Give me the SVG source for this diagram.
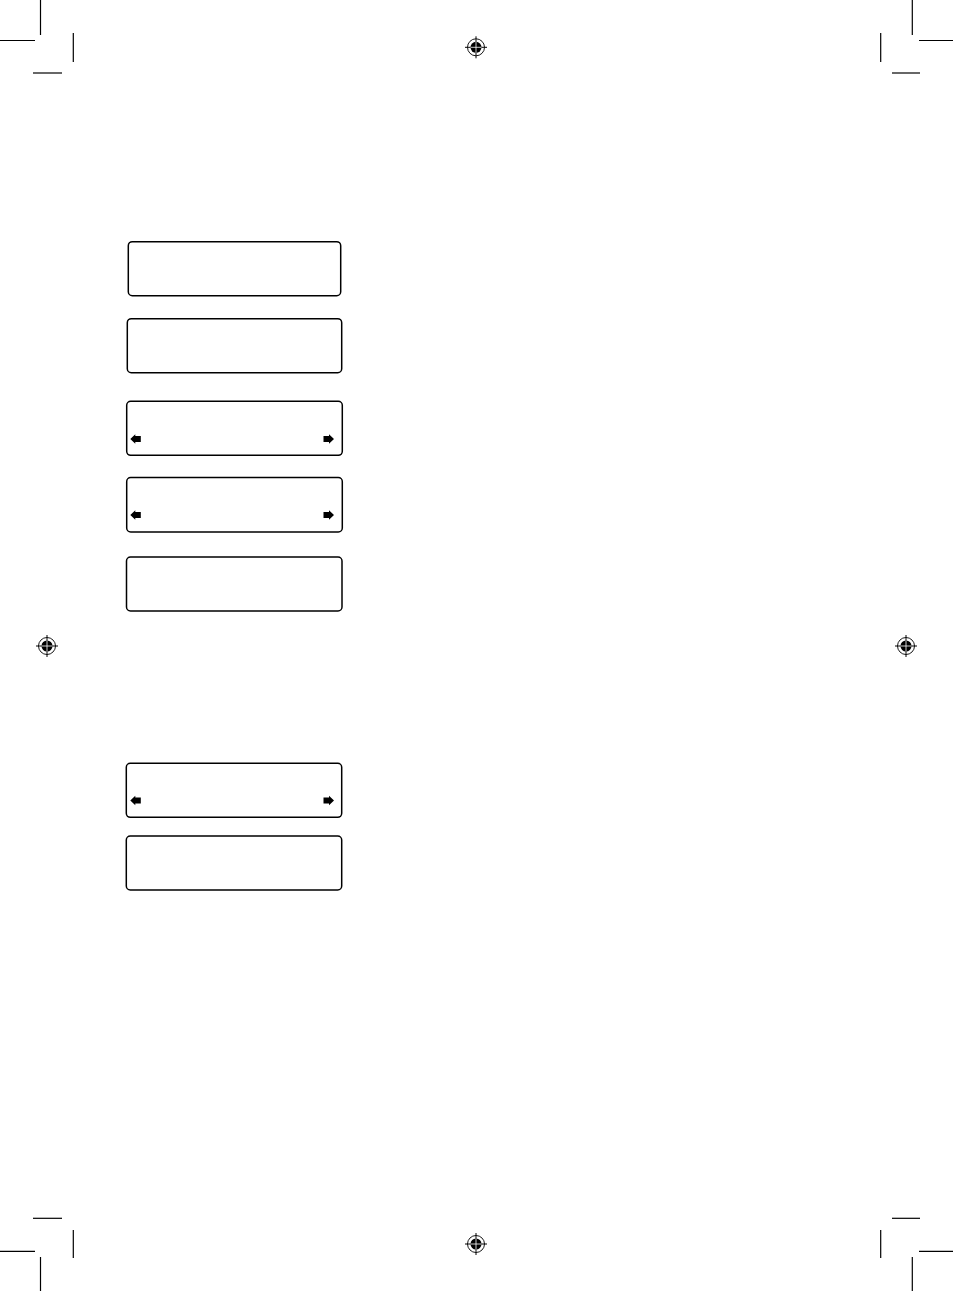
<svg xmlns="http://www.w3.org/2000/svg" width="953" height="1291" viewBox="0 0 953 1291">
<style>
.crop{stroke:#000;stroke-width:1.2;fill:none}
.box{fill:#fff;stroke:#000;stroke-width:1.5}
.arr{fill:#000}
</style>
<defs>
<g id="reg">
<circle r="8.5" fill="none" stroke="#000" stroke-width="0.9"/>
<circle r="5.5" fill="#000"/>
<line x1="-11" y1="0" x2="11" y2="0" stroke="#000" stroke-width="1"/>
<line x1="0" y1="-11" x2="0" y2="11" stroke="#000" stroke-width="1"/>
<line x1="-5.5" y1="0" x2="5.5" y2="0" stroke="#fff" stroke-width="0.8"/>
<line x1="0" y1="-5.5" x2="0" y2="5.5" stroke="#fff" stroke-width="0.8"/>
</g>
<path id="la" d="M0,0 L5,-4.8 L5,-3 L10.5,-3 L10.5,3 L5,3 L5,4.8 Z"/>
<path id="ra" d="M0,0 L-5,-4.8 L-5,-3 L-10.5,-3 L-10.5,3 L-5,3 L-5,4.8 Z"/>
</defs>
<rect width="953" height="1291" fill="#fff"/>
<g id="crop-marks" class="crop">
<line x1="40.5" y1="0" x2="40.5" y2="35"/>
<line x1="0" y1="40.5" x2="35" y2="40.5"/>
<line x1="73.3" y1="33" x2="73.3" y2="62"/>
<line x1="33" y1="73" x2="62" y2="73"/>
<line x1="912.3" y1="0" x2="912.3" y2="35"/>
<line x1="919" y1="40.5" x2="953" y2="40.5"/>
<line x1="880.7" y1="33" x2="880.7" y2="62"/>
<line x1="892" y1="73" x2="920" y2="73"/>
<line x1="33" y1="1218.3" x2="62" y2="1218.3"/>
<line x1="73.3" y1="1230" x2="73.3" y2="1258"/>
<line x1="0" y1="1251.3" x2="35" y2="1251.3"/>
<line x1="40.5" y1="1257" x2="40.5" y2="1291"/>
<line x1="892" y1="1218.3" x2="920" y2="1218.3"/>
<line x1="880.7" y1="1230" x2="880.7" y2="1258"/>
<line x1="919" y1="1251.3" x2="953" y2="1251.3"/>
<line x1="912.3" y1="1257" x2="912.3" y2="1291"/>
</g>
<g id="registration">
<use href="#reg" x="476" y="47.3"/>
<use href="#reg" x="476" y="1244"/>
<use href="#reg" x="47" y="646"/>
<use href="#reg" x="906" y="646"/>
</g>
<g id="node1"><rect class="box" x="128.3" y="241.7" width="212.4" height="54" rx="4"/></g>
<g id="node2"><rect class="box" x="127.3" y="318.7" width="214.4" height="54" rx="4"/></g>
<g id="node3"><rect class="box" x="126.7" y="401.3" width="215.6" height="54" rx="4"/>
<use class="arr" href="#la" x="130.3" y="439"/><use class="arr" href="#ra" x="334" y="439"/></g>
<g id="node4"><rect class="box" x="126.7" y="477.5" width="215.6" height="54.5" rx="4"/>
<use class="arr" href="#la" x="130.3" y="515"/><use class="arr" href="#ra" x="334" y="515"/></g>
<g id="node5"><rect class="box" x="126.5" y="557" width="215.5" height="54" rx="4"/></g>
<g id="node6"><rect class="box" x="126.3" y="763.3" width="215.4" height="54" rx="4"/>
<use class="arr" href="#la" x="130.3" y="800.5"/><use class="arr" href="#ra" x="334" y="800.5"/></g>
<g id="node7"><rect class="box" x="126.3" y="836" width="215.4" height="54" rx="4"/></g>
<g id="connectors"></g>
</svg>
